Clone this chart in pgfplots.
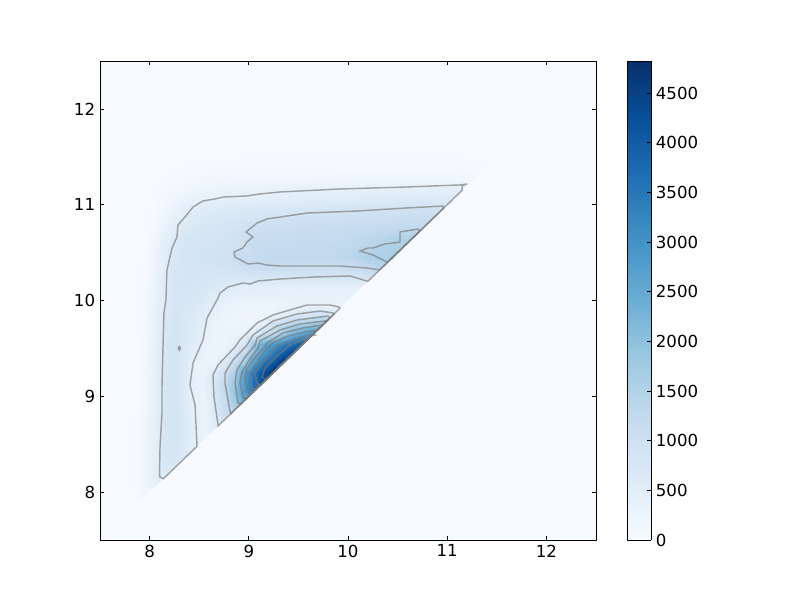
\documentclass[border=0pt]{standalone}
\usepackage{fontspec}
\setmainfont{DejaVu Sans}
\usepackage{pgfplots}
\pgfplotsset{compat=1.18}
\definecolor{bg}{RGB}{247,251,255}
\definecolor{con}{RGB}{120,120,120}
\begin{document}
\begin{tikzpicture}
\path[use as bounding box] (-1in,-0.6in) rectangle (7in,5.4in);
\begin{axis}[
  at={(0,0)},anchor=south west,
  scale only axis,width=4.96in,height=4.79in,
  xmin=7.5,xmax=12.5,ymin=7.5,ymax=12.5,
  xtick={8,9,10,11,12},ytick={8,9,10,11,12},
  axis background/.style={fill=bg},
  axis on top,
  axis line style={line width=0.7pt},
  tick style={black,line width=0.5pt},
  major tick length=3pt,
  tick align=inside,
  tick pos=both,
  xticklabel pos=lower,yticklabel pos=left,
  tick label style={font=\fontsize{12}{14}\selectfont},
  /pgf/number format/assume math mode=true,
  colormap={mplblues}{rgb255=(247,251,255) rgb255=(222,235,247) rgb255=(198,219,239) rgb255=(158,202,225) rgb255=(107,174,214) rgb255=(66,146,198) rgb255=(33,113,181) rgb255=(8,81,156) rgb255=(8,48,107)},
  point meta min=0,point meta max=4822,
  colorbar sampled,
  colorbar style={
    at={(1.0625,1)},anchor=north west,
    width=0.24in,
    samples=160,
    ytick={0,500,...,4500},
    tick align=inside,
    ticklabel pos=right,
    tick pos=right,
    major tick length=3pt,
    axis line style={line width=0.7pt},
    tick style={black,line width=0.5pt},
    /pgf/number format/1000 sep={},
    /pgf/number format/assume math mode=true,
    tick label style={font=\fontsize{12}{14}\selectfont},
  },
  contour/.style={draw=con,opacity=0.65,line width=1.05pt,forget plot,no marks},
]
\addplot[matrix plot*,shader=interp,mesh/cols=37,mesh/ordering=x varies,forget plot,point meta=\thisrowno{0}]
table[row sep=\\,header=false,x expr={7.8+0.1*mod(\coordindex,37)},y expr={7.8+0.1*floor(\coordindex/37)}]{
0\\0\\0\\0\\0\\0\\0\\0\\0\\0\\0\\0\\0\\0\\0\\0\\0\\0\\0\\0\\0\\0\\0\\0\\0\\0\\0\\0\\0\\0\\0\\0\\0\\0\\0\\0\\0\\
0\\30\\30\\30\\30\\30\\30\\30\\30\\30\\30\\30\\30\\30\\30\\30\\30\\30\\30\\30\\30\\30\\30\\30\\30\\30\\30\\30\\30\\30\\30\\30\\30\\30\\30\\30\\30\\
0\\40\\150\\150\\150\\150\\150\\150\\150\\150\\150\\150\\150\\150\\150\\150\\150\\150\\150\\150\\150\\150\\150\\150\\150\\150\\150\\150\\150\\150\\150\\150\\150\\150\\150\\150\\150\\
0\\60\\200\\440\\440\\440\\440\\440\\440\\440\\440\\440\\440\\440\\440\\440\\440\\440\\440\\440\\440\\440\\440\\440\\440\\440\\440\\440\\440\\440\\440\\440\\440\\440\\440\\440\\440\\
0\\70\\230\\470\\620\\620\\620\\620\\620\\620\\620\\620\\620\\620\\620\\620\\620\\620\\620\\620\\620\\620\\620\\620\\620\\620\\620\\620\\620\\620\\620\\620\\620\\620\\620\\620\\620\\
0\\70\\240\\470\\720\\700\\700\\700\\700\\700\\700\\700\\700\\700\\700\\700\\700\\700\\700\\700\\700\\700\\700\\700\\700\\700\\700\\700\\700\\700\\700\\700\\700\\700\\700\\700\\700\\
0\\70\\240\\470\\760\\800\\650\\650\\650\\650\\650\\650\\650\\650\\650\\650\\650\\650\\650\\650\\650\\650\\650\\650\\650\\650\\650\\650\\650\\650\\650\\650\\650\\650\\650\\650\\650\\
0\\70\\240\\470\\780\\820\\640\\470\\470\\470\\470\\470\\470\\470\\470\\470\\470\\470\\470\\470\\470\\470\\470\\470\\470\\470\\470\\470\\470\\470\\470\\470\\470\\470\\470\\470\\470\\
0\\60\\220\\470\\780\\850\\660\\480\\300\\300\\300\\300\\300\\300\\300\\300\\300\\300\\300\\300\\300\\300\\300\\300\\300\\300\\300\\300\\300\\300\\300\\300\\300\\300\\300\\300\\300\\
0\\60\\220\\470\\800\\880\\680\\470\\300\\500\\500\\500\\500\\500\\500\\500\\500\\500\\500\\500\\500\\500\\500\\500\\500\\500\\500\\500\\500\\500\\500\\500\\500\\500\\500\\500\\500\\
0\\60\\210\\470\\800\\880\\680\\460\\320\\560\\950\\950\\950\\950\\950\\950\\950\\950\\950\\950\\950\\950\\950\\950\\950\\950\\950\\950\\950\\950\\950\\950\\950\\950\\950\\950\\950\\
0\\50\\180\\450\\780\\880\\660\\440\\320\\620\\1100\\1450\\1450\\1450\\1450\\1450\\1450\\1450\\1450\\1450\\1450\\1450\\1450\\1450\\1450\\1450\\1450\\1450\\1450\\1450\\1450\\1450\\1450\\1450\\1450\\1450\\1450\\
0\\40\\160\\440\\760\\860\\620\\420\\300\\680\\1130\\1750\\2550\\2550\\2550\\2550\\2550\\2550\\2550\\2550\\2550\\2550\\2550\\2550\\2550\\2550\\2550\\2550\\2550\\2550\\2550\\2550\\2550\\2550\\2550\\2550\\2550\\
0\\40\\160\\430\\760\\860\\600\\400\\330\\730\\1200\\1900\\2800\\3600\\3600\\3600\\3600\\3600\\3600\\3600\\3600\\3600\\3600\\3600\\3600\\3600\\3600\\3600\\3600\\3600\\3600\\3600\\3600\\3600\\3600\\3600\\3600\\
0\\40\\150\\430\\760\\860\\600\\400\\340\\750\\1200\\1800\\2800\\3700\\4400\\4400\\4400\\4400\\4400\\4400\\4400\\4400\\4400\\4400\\4400\\4400\\4400\\4400\\4400\\4400\\4400\\4400\\4400\\4400\\4400\\4400\\4400\\
0\\40\\150\\420\\760\\860\\620\\400\\330\\570\\1050\\1530\\2650\\3500\\4300\\4800\\4800\\4800\\4800\\4800\\4800\\4800\\4800\\4800\\4800\\4800\\4800\\4800\\4800\\4800\\4800\\4800\\4800\\4800\\4800\\4800\\4800\\
0\\40\\150\\420\\760\\860\\650\\400\\310\\320\\670\\1200\\1700\\2800\\3600\\4200\\4800\\4800\\4800\\4800\\4800\\4800\\4800\\4800\\4800\\4800\\4800\\4800\\4800\\4800\\4800\\4800\\4800\\4800\\4800\\4800\\4800\\
0\\40\\150\\420\\760\\860\\680\\500\\300\\290\\330\\720\\1280\\2100\\2850\\3470\\4060\\4500\\4500\\4500\\4500\\4500\\4500\\4500\\4500\\4500\\4500\\4500\\4500\\4500\\4500\\4500\\4500\\4500\\4500\\4500\\4500\\
0\\40\\130\\400\\740\\860\\680\\560\\360\\280\\280\\420\\750\\1850\\2500\\2880\\3350\\3700\\4050\\4050\\4050\\4050\\4050\\4050\\4050\\4050\\4050\\4050\\4050\\4050\\4050\\4050\\4050\\4050\\4050\\4050\\4050\\
0\\30\\120\\380\\720\\850\\700\\600\\400\\290\\260\\270\\330\\640\\1080\\1350\\1800\\2350\\2650\\3000\\3000\\3000\\3000\\3000\\3000\\3000\\3000\\3000\\3000\\3000\\3000\\3000\\3000\\3000\\3000\\3000\\3000\\
0\\30\\110\\370\\680\\830\\700\\620\\460\\310\\260\\250\\250\\290\\470\\1030\\1250\\1500\\1650\\1800\\1980\\1980\\1980\\1980\\1980\\1980\\1980\\1980\\1980\\1980\\1980\\1980\\1980\\1980\\1980\\1980\\1980\\
0\\30\\100\\360\\650\\810\\720\\640\\530\\390\\280\\240\\220\\220\\250\\330\\490\\620\\750\\900\\960\\650\\650\\650\\650\\650\\650\\650\\650\\650\\650\\650\\650\\650\\650\\650\\650\\
0\\20\\100\\350\\620\\800\\760\\680\\600\\480\\340\\280\\240\\220\\220\\230\\290\\340\\380\\400\\400\\350\\300\\300\\300\\300\\300\\300\\300\\300\\300\\300\\300\\300\\300\\300\\300\\
0\\20\\100\\330\\600\\800\\800\\740\\680\\580\\470\\420\\420\\400\\400\\390\\380\\380\\370\\370\\370\\370\\380\\400\\400\\400\\400\\400\\400\\400\\400\\400\\400\\400\\400\\400\\400\\
0\\20\\90\\320\\590\\800\\850\\800\\750\\680\\600\\540\\520\\500\\500\\480\\470\\470\\460\\460\\450\\450\\440\\440\\480\\480\\480\\480\\480\\480\\480\\480\\480\\480\\480\\480\\480\\
0\\15\\80\\300\\580\\780\\820\\820\\800\\780\\760\\750\\780\\800\\800\\800\\800\\800\\800\\800\\800\\800\\800\\800\\850\\950\\950\\950\\950\\950\\950\\950\\950\\950\\950\\950\\950\\
0\\10\\70\\280\\540\\760\\840\\860\\860\\860\\900\\950\\1050\\1100\\1120\\1120\\1120\\1110\\1100\\1100\\1100\\1100\\1120\\1150\\1200\\1300\\1420\\1420\\1420\\1420\\1420\\1420\\1420\\1420\\1420\\1420\\1420\\
0\\10\\60\\260\\520\\740\\860\\880\\900\\940\\960\\1070\\1150\\1200\\1230\\1240\\1240\\1240\\1250\\1250\\1250\\1260\\1330\\1400\\1540\\1580\\1600\\1650\\1650\\1650\\1650\\1650\\1650\\1650\\1650\\1650\\1650\\
0\\10\\50\\230\\480\\700\\830\\870\\880\\880\\900\\950\\1000\\1150\\1200\\1220\\1230\\1240\\1250\\1250\\1250\\1260\\1280\\1320\\1380\\1440\\1520\\1600\\1620\\1620\\1620\\1620\\1620\\1620\\1620\\1620\\1620\\
0\\5\\40\\170\\400\\640\\780\\830\\850\\870\\900\\960\\1040\\1100\\1120\\1140\\1150\\1160\\1170\\1180\\1190\\1200\\1220\\1260\\1300\\1350\\1420\\1500\\1540\\1520\\1520\\1520\\1520\\1520\\1520\\1520\\1520\\
0\\0\\30\\130\\330\\500\\660\\740\\780\\810\\850\\900\\960\\1020\\1060\\1080\\1090\\1100\\1110\\1120\\1130\\1150\\1160\\1180\\1200\\1220\\1240\\1260\\1280\\1290\\1280\\1280\\1280\\1280\\1280\\1280\\1280\\
0\\0\\30\\100\\250\\420\\520\\620\\680\\720\\750\\780\\820\\860\\900\\930\\950\\980\\1000\\1010\\1020\\1020\\1030\\1040\\1050\\1060\\1070\\1080\\1090\\1100\\1100\\1100\\1100\\1100\\1100\\1100\\1100\\
0\\0\\20\\70\\180\\320\\500\\570\\600\\620\\640\\660\\690\\700\\710\\730\\740\\760\\780\\800\\820\\830\\850\\870\\890\\910\\920\\940\\950\\960\\970\\980\\900\\900\\900\\900\\900\\
0\\0\\15\\50\\120\\210\\310\\380\\430\\460\\480\\500\\510\\520\\530\\535\\540\\545\\550\\560\\570\\575\\580\\590\\600\\610\\615\\620\\625\\630\\635\\640\\650\\630\\630\\630\\630\\
0\\0\\10\\30\\70\\130\\180\\230\\270\\290\\310\\330\\340\\350\\360\\370\\380\\390\\400\\420\\440\\450\\460\\465\\470\\475\\480\\480\\485\\490\\490\\495\\500\\500\\500\\500\\500\\
0\\0\\5\\15\\40\\80\\110\\140\\170\\180\\185\\190\\195\\200\\205\\205\\210\\210\\215\\220\\225\\225\\230\\230\\235\\235\\240\\240\\240\\245\\245\\250\\250\\245\\240\\220\\220\\
0\\0\\0\\5\\20\\40\\60\\75\\90\\100\\105\\110\\115\\120\\120\\125\\125\\125\\130\\130\\130\\130\\130\\130\\130\\130\\130\\130\\130\\130\\130\\130\\130\\125\\115\\100\\80\\
0\\0\\0\\0\\5\\15\\25\\30\\40\\45\\50\\55\\60\\60\\62\\65\\65\\65\\65\\70\\70\\70\\70\\70\\70\\70\\70\\70\\65\\65\\65\\60\\60\\55\\50\\40\\30\\
0\\0\\0\\0\\0\\0\\5\\10\\12\\15\\15\\18\\20\\20\\22\\25\\25\\25\\25\\30\\30\\30\\30\\30\\30\\30\\30\\30\\30\\30\\30\\30\\30\\25\\20\\15\\10\\
0\\0\\0\\0\\0\\0\\0\\0\\0\\0\\0\\0\\0\\0\\0\\0\\0\\0\\0\\0\\0\\0\\0\\0\\0\\0\\0\\0\\0\\0\\0\\0\\0\\0\\0\\0\\0\\
};
\addplot[draw=none,fill=bg,forget plot] coordinates {(7.5,7.5)(12.5,12.5)(12.5,7.5)} -- cycle;
% contours
\addplot[contour] coordinates {(8.14,8.14)(8.10,8.16)(8.105,8.47)(8.125,8.826)(8.125,9.097)(8.135,9.515)(8.145,9.87)(8.165,10.005)(8.175,10.318)(8.226,10.548)(8.276,10.663)(8.286,10.788)(8.357,10.871)(8.438,10.976)(8.538,11.039)(8.659,11.06)(8.74,11.08)(8.982,11.091)(9.113,11.112)(9.314,11.133)(9.919,11.164)(10.595,11.185)(11.129,11.206)(11.2,11.216)(11.15,11.2)(11.15,11.15)(10.2,10.2)(10.02,10.256)(9.647,10.245)(9.315,10.224)(9.093,10.204)(9.012,10.172)(8.941,10.183)(8.79,10.141)(8.71,10.078)(8.69,10.026)(8.579,9.817)(8.538,9.588)(8.438,9.348)(8.407,9.118)(8.458,8.909)(8.478,8.478)} -- cycle;
\addplot[contour] coordinates {(10.96,10.96)(10.958,10.986)(10.595,10.966)(10.091,10.934)(9.587,10.913)(9.314,10.871)(9.183,10.851)(9.083,10.809)(8.972,10.715)(9.042,10.663)(8.982,10.611)(8.941,10.548)(8.851,10.506)(8.861,10.454)(8.992,10.381)(9.093,10.391)(9.183,10.37)(9.314,10.36)(9.919,10.36)(10.192,10.339)(10.32,10.32)} -- cycle;
\addplot[contour] coordinates {(10.72,10.72)(10.706,10.746)(10.524,10.715)(10.524,10.611)(10.373,10.59)(10.252,10.548)(10.202,10.548)(10.121,10.517)(10.252,10.475)(10.393,10.402)(10.40,10.40)} -- cycle;
\addplot[contour] coordinates {(8.69,8.69)(8.69,8.70)(8.649,8.993)(8.639,9.222)(8.689,9.327)(8.861,9.515)(8.911,9.588)(9.083,9.765)(9.244,9.849)(9.415,9.901)(9.587,9.953)(9.819,9.953)(9.909,9.932)(9.92,9.92)} -- cycle;
\addplot[contour] coordinates {(8.82,8.82)(8.81,8.847)(8.76,9.139)(8.76,9.243)(8.841,9.379)(8.982,9.535)(9.042,9.64)(9.244,9.786)(9.486,9.859)(9.718,9.89)(9.849,9.87)(9.86,9.86)} -- cycle;
\addplot[contour] coordinates {(8.92,8.92)(8.891,8.93)(8.861,9.139)(8.881,9.275)(8.962,9.41)(9.063,9.535)(9.083,9.608)(9.284,9.734)(9.486,9.796)(9.798,9.838)(9.82,9.82)} -- cycle;
\addplot[contour] coordinates {(8.98,8.98)(8.942,8.982)(8.911,9.139)(8.931,9.254)(8.992,9.358)(9.093,9.504)(9.113,9.577)(9.315,9.692)(9.516,9.755)(9.768,9.786)(9.79,9.79)} -- cycle;
\addplot[contour] coordinates {(9.03,9.03)(8.992,9.045)(8.962,9.17)(8.982,9.295)(9.083,9.431)(9.163,9.515)(9.183,9.556)(9.345,9.661)(9.546,9.713)(9.738,9.744)(9.75,9.75)} -- cycle;
\addplot[contour] coordinates {(9.07,9.07)(9.032,9.087)(9.012,9.243)(9.083,9.348)(9.143,9.452)(9.234,9.556)(9.395,9.629)(9.567,9.671)(9.698,9.692)(9.70,9.70)} -- cycle;
\addplot[contour] coordinates {(9.11,9.11)(9.083,9.139)(9.063,9.243)(9.133,9.348)(9.214,9.431)(9.284,9.525)(9.435,9.588)(9.567,9.629)(9.667,9.64)(9.65,9.65)} -- cycle;
\addplot[contour] coordinates {(9.17,9.17)(9.133,9.201)(9.163,9.295)(9.244,9.379)(9.294,9.431)(9.415,9.535)(9.546,9.588)(9.597,9.588)(9.60,9.60)} -- cycle;
\addplot[contour] coordinates {(8.288,9.50)(8.30,9.52)(8.312,9.50)(8.30,9.48)} -- cycle;
\end{axis}
\end{tikzpicture}
\end{document}
